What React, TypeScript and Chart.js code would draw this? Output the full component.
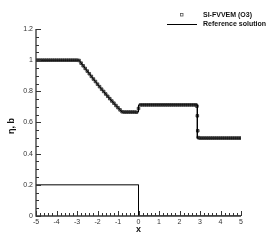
import React, { useEffect, useRef } from "react";
import { Chart, registerables } from "chart.js";
Chart.register(...registerables);

// Axis ticks
const xTickValues = [-5, -4, -3, -2, -1, 0, 1, 2, 3, 4, 5];
const yTickValues = [0, 0.2, 0.4, 0.6, 0.8, 1, 1.2];

// SI-FVVEM (O3) numerical solution
const numX = [
  -5.0, -4.9, -4.8, -4.7, -4.6, -4.5, -4.4, -4.3, -4.2, -4.1, -4.0, -3.9, -3.8, -3.7, -3.6, -3.5, -3.4, -3.3, -3.2, -3.1, -3.0,
  -2.9, -2.8, -2.7, -2.6, -2.5, -2.4, -2.3, -2.2, -2.1, -2.0, -1.9, -1.8, -1.7, -1.6, -1.5, -1.4, -1.3, -1.2, -1.1, -1.0, -0.9, -0.8,
  -0.7, -0.6, -0.5, -0.4, -0.3, -0.2, -0.1, 0.0,
  0.1, 0.2, 0.3, 0.4, 0.5, 0.6, 0.7, 0.8, 0.9, 1.0, 1.1, 1.2, 1.3, 1.4, 1.5, 1.6, 1.7, 1.8, 1.9, 2.0, 2.1, 2.2, 2.3, 2.4, 2.5, 2.6, 2.7, 2.8,
  2.85, 2.87, 2.89, 2.92,
  3.0, 3.1, 3.2, 3.3, 3.4, 3.5, 3.6, 3.7, 3.8, 3.9, 4.0, 4.1, 4.2, 4.3, 4.4, 4.5, 4.6, 4.7, 4.8, 4.9, 5.0,
];
const numY = [
  1, 1, 1, 1, 1, 1, 1, 1, 1, 1, 1, 1, 1, 1, 1, 1, 1, 1, 1, 1, 1,
  0.998, 0.981, 0.964, 0.947, 0.93, 0.913, 0.896, 0.879, 0.863, 0.846, 0.83, 0.814, 0.799, 0.783, 0.768, 0.753, 0.738, 0.724, 0.709, 0.695, 0.681, 0.669,
  0.667, 0.667, 0.667, 0.667, 0.667, 0.667, 0.666, 0.69,
  0.713, 0.713, 0.713, 0.713, 0.713, 0.713, 0.713, 0.713, 0.713, 0.713, 0.713, 0.713, 0.713, 0.713, 0.713, 0.713, 0.713, 0.713, 0.713, 0.713, 0.713, 0.713, 0.713, 0.713, 0.713, 0.713, 0.713, 0.713,
  0.705, 0.643, 0.547, 0.503,
  0.5, 0.5, 0.5, 0.5, 0.5, 0.5, 0.5, 0.5, 0.5, 0.5, 0.5, 0.5, 0.5, 0.5, 0.5, 0.5, 0.5, 0.5, 0.5, 0.5, 0.5,
];

// Reference solution (free surface)
const refX = [-5, -2.9, -2.8, -2.7, -2.6, -2.5, -2.4, -2.3, -2.2, -2.1, -2.0, -1.9, -1.8, -1.7, -1.6, -1.5, -1.4, -1.3, -1.2, -1.1, -1.0, -0.9, -0.8, 0, 0, 2.87, 2.87, 5];
const refY = [1, 1, 0.982, 0.964, 0.947, 0.93, 0.913, 0.896, 0.879, 0.863, 0.846, 0.83, 0.814, 0.799, 0.783, 0.768, 0.753, 0.738, 0.724, 0.709, 0.695, 0.681, 0.667, 0.667, 0.713, 0.713, 0.5, 0.5];

// Bottom b
const bedX = [-5, 0, 0, 5];
const bedY = [0.2, 0.2, 0, 0];

const legendLabels = ["SI-FVVEM (O3)", "Reference solution"];
const xTitle = "x";
const yTitle = "η, b";

const zip = (xs: number[], ys: number[]) => xs.map((x, i) => ({ x, y: ys[i] }));
const fmt = (v: any) => String(Number(Number(v).toFixed(2)));

const tecplotPlugin = {
  id: "tecplot",
  afterDatasetsDraw(chart: any) {
    const { ctx, chartArea, scales } = chart;
    const { left, right, top, bottom } = chartArea;
    const xs = scales.x;
    const ys = scales.y;
    ctx.save();
    ctx.strokeStyle = "#333";
    ctx.lineWidth = 1.3;
    ctx.beginPath();
    ctx.moveTo(left, top);
    ctx.lineTo(left, bottom);
    ctx.lineTo(right, bottom);
    ctx.stroke();
    ctx.lineWidth = 1;
    ctx.beginPath();
    for (let i = 0; i <= 50; i++) {
      const v = -5 + i * 0.2;
      const px = Math.round(xs.getPixelForValue(v)) + 0.5;
      const len = i % 5 === 0 ? 5 : 3;
      ctx.moveTo(px, bottom);
      ctx.lineTo(px, bottom - len);
    }
    for (let i = 0; i <= 24; i++) {
      const v = i * 0.05;
      const py = Math.round(ys.getPixelForValue(v)) + 0.5;
      const len = i % 4 === 0 ? 5 : 3;
      ctx.moveTo(left, py);
      ctx.lineTo(left + len, py);
    }
    ctx.stroke();

    // legend
    ctx.fillStyle = "#111";
    ctx.font = "bold 7px 'Liberation Sans', Arial, sans-serif";
    ctx.textBaseline = "middle";
    ctx.textAlign = "left";
    ctx.strokeStyle = "#555";
    ctx.lineWidth = 0.8;
    ctx.strokeRect(180.5, 13.5, 2.5, 2.5);
    ctx.fillText(legendLabels[0], 203, 15);
    ctx.strokeStyle = "#000";
    ctx.lineWidth = 1;
    ctx.beginPath();
    ctx.moveTo(167, 24.5);
    ctx.lineTo(197, 24.5);
    ctx.stroke();
    ctx.fillText(legendLabels[1], 203, 24.5);

    // axis titles
    ctx.font = "bold 9px 'Liberation Sans', Arial, sans-serif";
    ctx.textAlign = "center";
    ctx.fillText(xTitle, (left + right) / 2, 230);
    ctx.translate(12, 126);
    ctx.rotate(-Math.PI / 2);
    ctx.fillText(yTitle, 0, 0);
    ctx.restore();
  },
};

export default function App() {
  const ref = useRef<HTMLCanvasElement | null>(null);
  useEffect(() => {
    if (!ref.current) return;
    const chart = new Chart(ref.current, {
      type: "scatter",
      data: {
        datasets: [
          {
            label: legendLabels[1],
            data: zip(refX, refY),
            showLine: true,
            borderColor: "#000",
            borderWidth: 1,
            pointRadius: 0,
            tension: 0,
          },
          {
            label: "b",
            data: zip(bedX, bedY),
            showLine: true,
            borderColor: "#000",
            borderWidth: 1,
            pointRadius: 0,
            tension: 0,
          },
          {
            label: legendLabels[0],
            data: zip(numX, numY),
            showLine: false,
            pointStyle: "rect",
            pointRadius: 1.8,
            borderColor: "#333",
            borderWidth: 0.9,
            backgroundColor: "#6a6a6a",
          },
        ],
      },
      options: {
        animation: false,
        responsive: false,
        events: [],
        layout: { padding: { top: 29, right: 33, left: 0, bottom: 0 } },
        plugins: { legend: { display: false }, tooltip: { enabled: false } },
        scales: {
          x: {
            type: "linear",
            min: -5,
            max: 5,
            afterBuildTicks: (s: any) => {
              s.ticks = xTickValues.map((v) => ({ value: v }));
            },
            afterFit: (s: any) => {
              s.height = 28;
            },
            grid: { display: false, drawTicks: false },
            border: { display: false },
            ticks: {
              padding: 1.5,
              color: "#333",
              callback: fmt,
              font: { family: "'Liberation Sans', Arial, sans-serif", size: 7 },
              maxRotation: 0,
              autoSkip: false,
            },
          },
          y: {
            type: "linear",
            min: 0,
            max: 1.2,
            afterBuildTicks: (s: any) => {
              s.ticks = yTickValues.map((v) => ({ value: v }));
            },
            afterFit: (s: any) => {
              s.width = 36;
            },
            grid: { display: false, drawTicks: false },
            border: { display: false },
            ticks: {
              padding: 3,
              color: "#333",
              callback: fmt,
              font: { family: "'Liberation Sans', Arial, sans-serif", size: 7 },
              autoSkip: false,
            },
          },
        },
      },
      plugins: [tecplotPlugin],
    });
    return () => chart.destroy();
  }, []);
  return (
    <div style={{ position: "fixed", left: 0, top: 0, width: 274, height: 244, background: "#fff" }}>
      <canvas ref={ref} width={274} height={244} style={{ display: "block" }} />
    </div>
  );
}
